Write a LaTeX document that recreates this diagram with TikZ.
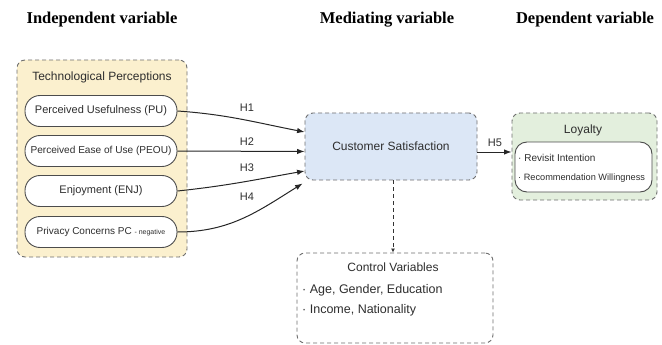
\documentclass[tikz,border=0pt]{standalone}
\usepackage{fontspec}
\setmainfont{Liberation Sans}
\newfontfamily\hdfont{Liberation Serif}
\usetikzlibrary{arrows.meta,calc}
\definecolor{yel}{HTML}{FBF0CE}
\definecolor{csblue}{HTML}{DCE7F6}
\definecolor{lgreen}{HTML}{E3EFDD}
\definecolor{bord}{HTML}{6E6E6E}
\definecolor{txt}{HTML}{2E2E2E}
\begin{document}
\begin{tikzpicture}[x=1pt,y=-1pt,
  grp/.style={draw=bord, dash pattern=on 4pt off 3pt, rounded corners=8pt, line width=0.9pt, inner sep=0pt},
  pill/.style={draw=black!70, line width=0.9pt, fill=white, rounded corners=15pt, minimum width=152pt, minimum height=31pt, inner sep=0pt, text=txt, font=\fontsize{11}{13}\selectfont},
  hd/.style={font=\hdfont\bfseries\fontsize{16.5}{19}\selectfont, text=black},
  lbl/.style={font=\fontsize{11}{13}\selectfont, text=txt, inner sep=0pt},
  ttl/.style={font=\fontsize{12}{14}\selectfont, text=txt, inner sep=0pt},
  arr/.style={-{Latex[length=7.5pt,width=5.5pt]}, line width=1pt, draw=black!85}]
\useasboundingbox (0,0) rectangle (662,345);
% headers
\node[hd] (hind) at (102,20) {Independent variable};
\node[hd] (hmed) at (387,20) {Mediating variable};
\node[hd] (hdep) at (585,20) {Dependent variable};
% technological perceptions group
\node[grp, fill=yel, minimum width=170pt, minimum height=197pt] (tp) at (102,158.5) {};
\node[ttl] (tpt) at (102,77) {Technological Perceptions};
\node[pill] (pu) at (101,111) {Perceived Usefulness (PU)};
\node[pill, font=\fontsize{10.1}{12}\selectfont] (peou) at (101,151) {Perceived Ease of Use (PEOU)};
\node[pill] (enj) at (101,191) {Enjoyment (ENJ)};
\node[pill, font=\fontsize{10}{12}\selectfont] (pc) at (101,232) {Privacy Concerns PC {\fontsize{7}{8}\selectfont - negative}};
% customer satisfaction
\node[grp, fill=csblue, minimum width=172pt, minimum height=67pt, text=txt, font=\fontsize{12}{14}\selectfont] (cs) at (391,146.5) {Customer Satisfaction};
% loyalty
\node[grp, fill=lgreen, minimum width=145pt, minimum height=87pt] (loy) at (584.5,156.5) {};
\node[ttl] (loyt) at (583,130) {Loyalty};
\node[draw=black!70, line width=0.9pt, fill=white, rounded corners=12pt, minimum width=137pt, minimum height=50pt, inner sep=0pt] (lp) at (583.5,167) {};
\node[lbl, anchor=west, font=\fontsize{10}{12}\selectfont] (ri) at (518,158) {·\ Revisit Intention};
\node[lbl, anchor=west, font=\fontsize{9.2}{11}\selectfont] (rw) at (518,178) {·\ Recommendation Willingness};
% control variables
\node[grp, fill=white, minimum width=196pt, minimum height=90pt] (ctl) at (395,298) {};
\node[ttl] (ctlt) at (393,267) {Control Variables};
\node[lbl, anchor=west, font=\fontsize{12.5}{14}\selectfont] (c1) at (302,290) {·\ Age, Gender, Education};
\node[lbl, anchor=west, font=\fontsize{12.5}{14}\selectfont] (c2) at (302,310) {·\ Income, Nationality};
% arrows
\draw[arr] (pu.east) to[out=-4, in=169] ([yshift=14.5pt]cs.west);
\draw[arr] (peou.east) -- ([yshift=-5pt]cs.west);
\draw[arr] (enj.east) to[out=6, in=190] ([yshift=-24.5pt]cs.west);
\draw[arr] (pc.east) to[out=0, in=212] ([xshift=-2pt,yshift=-37pt]cs.west);
\draw[arr] ([yshift=-5.5pt]cs.east) -- ([yshift=4.5pt]loy.west);
\draw[-{Latex[length=4pt,width=4pt]}, line width=0.9pt, draw=black!80, dash pattern=on 4pt off 3pt] ([xshift=2pt]cs.south) -- ([xshift=-2pt]ctl.north);
% labels
\node[lbl] (l1) at (247,108) {H1};
\node[lbl] (l2) at (247,142) {H2};
\node[lbl] (l3) at (247,168) {H3};
\node[lbl] (l4) at (247,197) {H4};
\node[lbl] (l5) at (495,143) {H5};
\end{tikzpicture}
\end{document}
